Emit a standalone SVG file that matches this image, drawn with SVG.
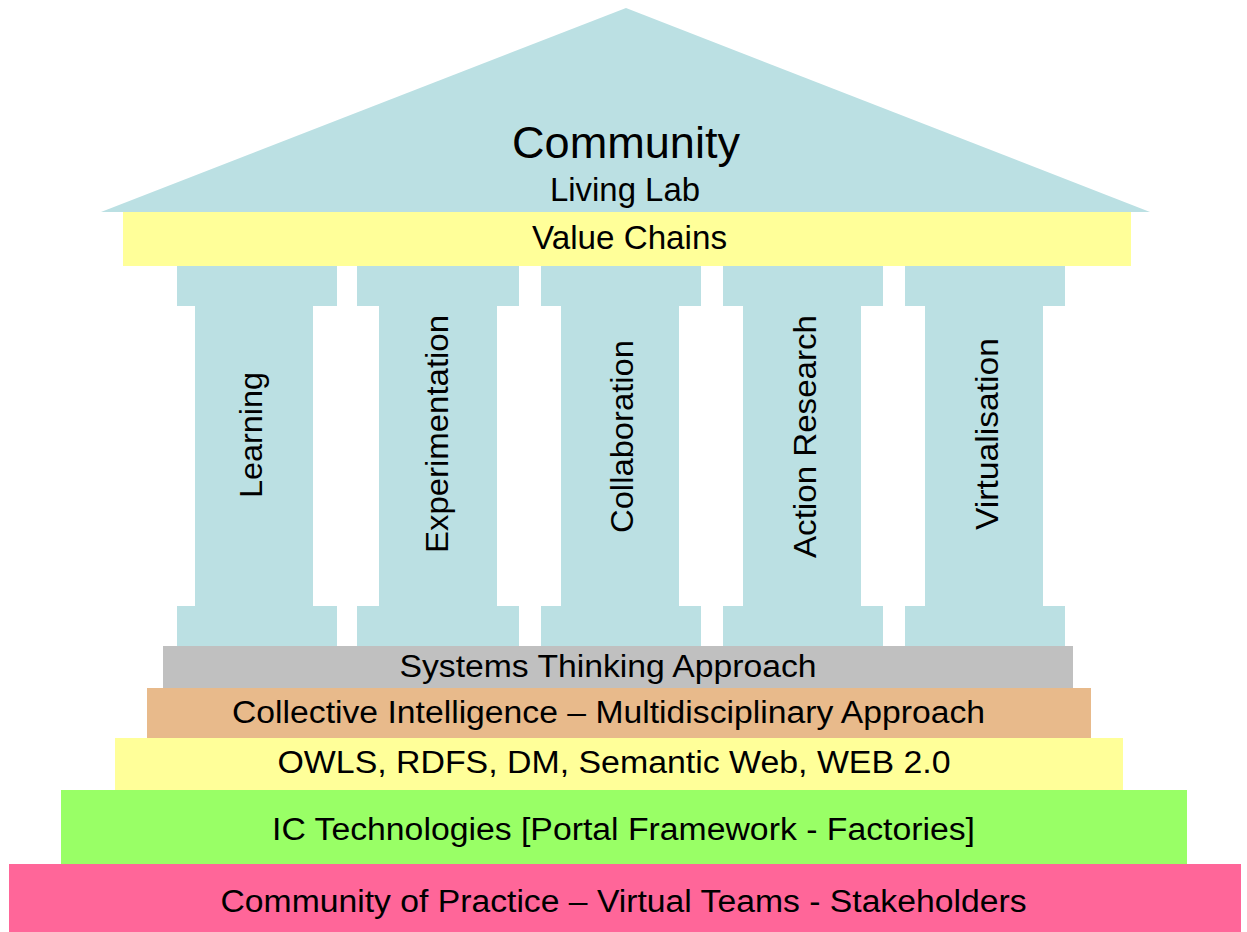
<svg xmlns="http://www.w3.org/2000/svg" width="1247" height="932" viewBox="0 0 1247 932">
<style>
.blue{fill:#BBE0E3}
.t{font-family:"Liberation Sans",Arial,sans-serif;fill:#000;text-anchor:middle}
.b{font-size:31px}
.p{font-size:32px}
</style>
<rect width="1247" height="932" fill="#FFFFFF"/>
<g id="roof">
<polygon class="blue" points="626,8 1150,212 101,212"/>
<text class="t" x="626" y="158" font-size="45" textLength="228" lengthAdjust="spacingAndGlyphs">Community</text>
<text class="t" x="625" y="201" font-size="33" textLength="150" lengthAdjust="spacingAndGlyphs">Living Lab</text>
</g>
<g id="value-chains">
<rect x="123" y="212" width="1008" height="54" fill="#FFFF99"/>
<text class="t" x="629.5" y="249" font-size="33" textLength="195" lengthAdjust="spacingAndGlyphs">Value Chains</text>
</g>
<g id="pillar-learning">
<rect class="blue" x="177" y="266" width="160" height="40"/>
<rect class="blue" x="195" y="305" width="118" height="302"/>
<rect class="blue" x="177" y="606" width="160" height="40"/>
<text class="t p" transform="translate(262,435) rotate(-90)" textLength="126" lengthAdjust="spacingAndGlyphs">Learning</text>
</g>
<g id="pillar-experimentation">
<rect class="blue" x="357" y="266" width="162" height="40"/>
<rect class="blue" x="379" y="305" width="118" height="302"/>
<rect class="blue" x="357" y="606" width="162" height="40"/>
<text class="t p" transform="translate(448,434) rotate(-90)" textLength="238" lengthAdjust="spacingAndGlyphs">Experimentation</text>
</g>
<g id="pillar-collaboration">
<rect class="blue" x="541" y="266" width="160" height="40"/>
<rect class="blue" x="561" y="305" width="118" height="302"/>
<rect class="blue" x="541" y="606" width="160" height="40"/>
<text class="t p" transform="translate(633,436.5) rotate(-90)" textLength="193" lengthAdjust="spacingAndGlyphs">Collaboration</text>
</g>
<g id="pillar-action-research">
<rect class="blue" x="723" y="266" width="160" height="40"/>
<rect class="blue" x="743" y="305" width="118" height="302"/>
<rect class="blue" x="723" y="606" width="160" height="40"/>
<text class="t p" transform="translate(816,436.5) rotate(-90)" textLength="243" lengthAdjust="spacingAndGlyphs">Action Research</text>
</g>
<g id="pillar-virtualisation">
<rect class="blue" x="905" y="266" width="160" height="40"/>
<rect class="blue" x="925" y="305" width="118" height="302"/>
<rect class="blue" x="905" y="606" width="160" height="40"/>
<text class="t p" transform="translate(998,434) rotate(-90)" textLength="192" lengthAdjust="spacingAndGlyphs">Virtualisation</text>
</g>
<g id="systems-thinking">
<rect x="163" y="646" width="910" height="42" fill="#C0C0C0"/>
<text class="t b" x="608" y="677" textLength="417" lengthAdjust="spacingAndGlyphs">Systems Thinking Approach</text>
</g>
<g id="collective-intelligence">
<rect x="147" y="688" width="944" height="50" fill="#E8BA8B"/>
<text class="t b" x="608.5" y="723" textLength="753" lengthAdjust="spacingAndGlyphs">Collective Intelligence – Multidisciplinary Approach</text>
</g>
<g id="semantic-web">
<rect x="115" y="738" width="1008" height="52" fill="#FFFF99"/>
<text class="t b" x="614" y="773" textLength="673" lengthAdjust="spacingAndGlyphs">OWLS, RDFS, DM, Semantic Web, WEB 2.0</text>
</g>
<g id="ic-technologies">
<rect x="61" y="790" width="1126" height="74" fill="#99FF66"/>
<text class="t b" x="623.5" y="840" textLength="703" lengthAdjust="spacingAndGlyphs">IC Technologies  [Portal Framework - Factories]</text>
</g>
<g id="community-of-practice">
<rect x="9" y="864" width="1232" height="68" fill="#FF6699"/>
<text class="t b" x="623.5" y="912" textLength="806" lengthAdjust="spacingAndGlyphs">Community of Practice – Virtual Teams - Stakeholders</text>
</g>
<g id="connectors"/>
</svg>
